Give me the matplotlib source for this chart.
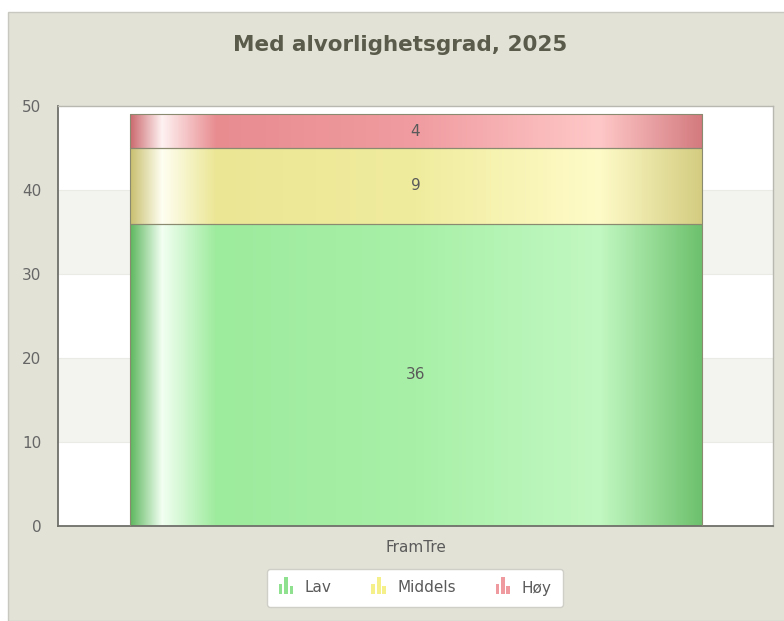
import numpy as np
import matplotlib.pyplot as plt
from matplotlib.patches import Rectangle
from matplotlib.legend_handler import HandlerBase
from matplotlib.colors import to_rgb

# --- Data ---
title = 'Med alvorlighetsgrad, 2025'
category = 'FramTre'
series_names = ['Lav', 'Middels', 'Høy']
series_values = [36, 9, 4]
y_ticks = [0, 10, 20, 30, 40, 50]

# --- Style ---
panel_bg = '#e2e2d7'
text_col = '#5a5a5a'
title_col = '#5b5b4b'
# gradient stops (fraction of bar width, colour) per series
grad_stops = {
    'Lav': [(0.0, '#5fb860'), (0.055, '#f2fff2'), (0.15, '#9deb9d'),
            (0.5, '#a8f0a8'), (0.82, '#c2f8c2'), (1.0, '#6cc06c')],
    'Middels': [(0.0, '#c9c070'), (0.055, '#fffff2'), (0.15, '#ebe694'),
                (0.5, '#f0ec9e'), (0.82, '#fffbc8'), (1.0, '#d3cc80')],
    'Høy': [(0.0, '#cc6b70'), (0.055, '#fff2f2'), (0.15, '#e88c90'),
            (0.5, '#f09ca0'), (0.82, '#ffc8c8'), (1.0, '#d37a7e')],
}
legend_cols = {'Lav': '#8fe08f', 'Middels': '#f5f08a', 'Høy': '#ef9a9e'}


def gradient_image(stops, n=400):
    xs = np.linspace(0, 1, n)
    pos = [s[0] for s in stops]
    cols = np.array([to_rgb(s[1]) for s in stops])
    img = np.zeros((1, n, 3))
    for c in range(3):
        img[0, :, c] = np.interp(xs, pos, cols[:, c])
    return img


class BarIconHandler(HandlerBase):
    # little three-bar icon like the original legend
    def create_artists(self, legend, orig_handle, xdescent, ydescent,
                       width, height, fontsize, trans):
        col = orig_handle.get_facecolor()
        w = width / 4.0
        heights = [0.6, 1.0, 0.45]
        arts = []
        for i, h in enumerate(heights):
            r = Rectangle((-xdescent + i * (w + 1.2), -ydescent),
                          w, height * h * 1.3, facecolor=col, edgecolor='none',
                          transform=trans)
            arts.append(r)
        return arts


fig = plt.figure(figsize=(7.84, 6.21), dpi=100)
fig.patch.set_facecolor('white')
# grey chart panel
fig.patches.append(Rectangle((8 / 784, 0), 1, (621 - 12) / 621,
                             transform=fig.transFigure, facecolor=panel_bg,
                             edgecolor='#c8c8c0', linewidth=1.0, zorder=-10))

ax = fig.add_axes([58 / 784, (621 - 526) / 621, (773 - 58) / 784, (526 - 106) / 621])
ax.set_zorder(1)
ax.set_facecolor('white')

# alternating bands
for lo in range(0, 50, 10):
    if (lo // 10) % 2 == 1:
        ax.axhspan(lo, lo + 10, color='#f3f3ef', zorder=0, linewidth=0)
for y in y_ticks[1:-1]:
    ax.axhline(y, color='#ebebe6', linewidth=0.8, zorder=0.5)

# stacked bars
bottom = 0
bar_w = 0.8
for name, val in zip(series_names, series_values):
    bars = ax.bar([0], [val], width=bar_w, bottom=bottom, color='none',
                  edgecolor='#8a8a70', linewidth=0.8, zorder=3)
    patch = bars[0]
    im = ax.imshow(gradient_image(grad_stops[name]),
                   extent=(-bar_w / 2, bar_w / 2, bottom, bottom + val),
                   aspect='auto', zorder=2, interpolation='bilinear')
    im.set_clip_path(patch)
    ax.text(0, bottom + val / 2, str(val), ha='center', va='center',
            fontsize=11, color=text_col, zorder=4)
    bottom += val
ax.set_xlim(-0.5, 0.5)
ax.set_ylim(0, 50)

ax.set_xticks([0])
ax.set_xticklabels([category], fontsize=11, color=text_col)
ax.set_yticks(y_ticks)
ax.set_yticklabels([str(t) for t in y_ticks], fontsize=11, color='#666666')
ax.tick_params(length=0, pad=12)
ax.tick_params(axis='x', pad=10)
for s in ['left', 'bottom']:
    ax.spines[s].set_color('#6f6f6a')
    ax.spines[s].set_linewidth(1.3)
for s in ['top', 'right']:
    ax.spines[s].set_color('#b8b8b0')
    ax.spines[s].set_linewidth(1.0)

fig.text(400 / 784, 1 - 45 / 621, title, ha='center', va='center',
         fontsize=15.5, fontweight='bold', color=title_col)

handles = [Rectangle((0, 0), 1, 1, facecolor=legend_cols[n]) for n in series_names]
leg = fig.legend(handles, series_names, loc='center',
                 bbox_to_anchor=(415 / 784, 1 - 588 / 621), ncol=3,
                 handler_map={Rectangle: BarIconHandler()},
                 frameon=True, fancybox=True, fontsize=11,
                 handlelength=1.0, handleheight=0.9, handletextpad=0.7,
                 columnspacing=2.6, borderpad=0.75, labelcolor=text_col)
leg.get_frame().set_facecolor('white')
leg.get_frame().set_edgecolor('#cfcfc8')
leg.get_frame().set_alpha(1.0)

fig.savefig('out.png', dpi=100, facecolor=fig.get_facecolor())
